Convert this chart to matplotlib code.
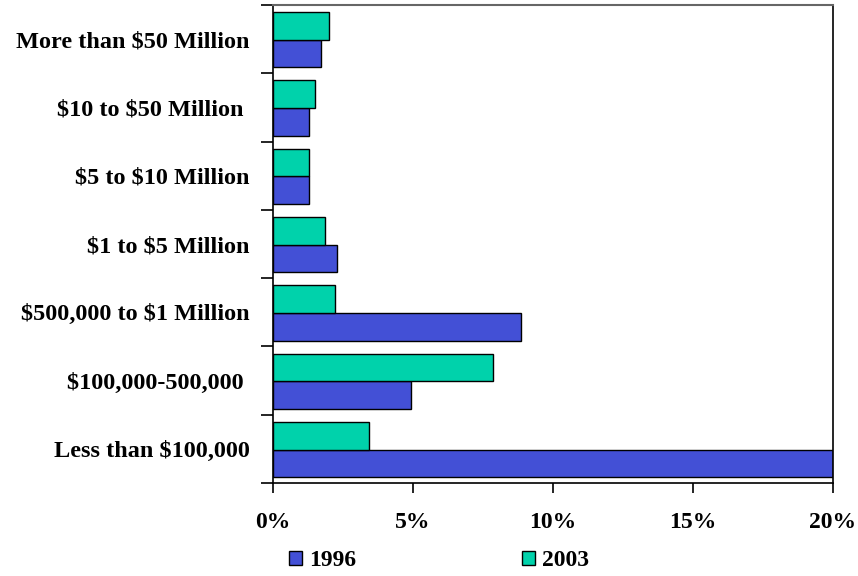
import matplotlib
matplotlib.use("Agg")
import matplotlib.pyplot as plt
from matplotlib.patches import Patch
import numpy as np

categories = ["Less than $100,000", "$100,000-500,000 ", "$500,000 to $1 Million",
              "$1 to $5 Million", "$5 to $10 Million", "$10 to $50 Million ",
              "More than $50 Million"]
values_1996 = [20.0, 4.94, 8.86, 2.30, 1.30, 1.30, 1.73]
values_2003 = [3.44, 7.87, 2.23, 1.87, 1.30, 1.51, 2.01]
xticks = [0, 5, 10, 15, 20]
xtick_labels = ["0%", "5%", "10%", "15%", "20%"]

c1996 = "#4350D6"
c2003 = "#00D2AB"

plt.rcParams['text.parse_math'] = False
plt.rcParams['font.family'] = ['Liberation Serif', 'DejaVu Serif']
plt.rcParams['font.weight'] = 'bold'

fig = plt.figure(figsize=(8.58, 5.76), dpi=100)
ax = fig.add_axes([273/858, 1-483/576, 560/858, 478/576])

y = np.arange(len(categories))
h = 0.405
ax.barh(y - 0.01 - h/2, values_1996, height=h, color=c1996, edgecolor='black', linewidth=1.0)
ax.barh(y - 0.01 + h/2, values_2003, height=h, color=c2003, edgecolor='black', linewidth=1.0)

ax.set_xlim(0, 20)
ax.set_ylim(-0.5, len(categories) - 0.5)
ax.set_xticks(xticks)
ax.set_xticklabels(xtick_labels, fontsize=17, fontweight='bold')
ax.set_yticks(np.arange(len(categories) + 1) - 0.5, minor=False)
ax.set_yticklabels([])
ax.set_yticks(y, minor=True)
ax.set_yticklabels(categories, minor=True, fontsize=17.5, fontweight='bold')
ax.tick_params(axis='y', which='minor', length=0, pad=17)
ax.tick_params(axis='y', which='major', length=9, width=1.2, direction='out')
ax.tick_params(axis='x', length=7, width=1.2, direction='out', pad=14)

for s in ['left', 'bottom', 'right']:
    ax.spines[s].set_color('black')
    ax.spines[s].set_linewidth(1.2)
ax.spines['top'].set_color('#666666')
ax.spines['top'].set_linewidth(1.5)

handles = [Patch(facecolor=c1996, edgecolor='black', label='1996'),
           Patch(facecolor=c2003, edgecolor='black', label='2003')]
fig.legend(handles=handles, loc='center left', bbox_to_anchor=(268/858, 1-561/576),
           ncol=2, frameon=False, prop={'family': 'Liberation Serif', 'weight': 'bold', 'size': 17},
           handlelength=0.55, handleheight=0.55, handletextpad=0.3, columnspacing=7.0)

fig.savefig("out.png", dpi=100)
